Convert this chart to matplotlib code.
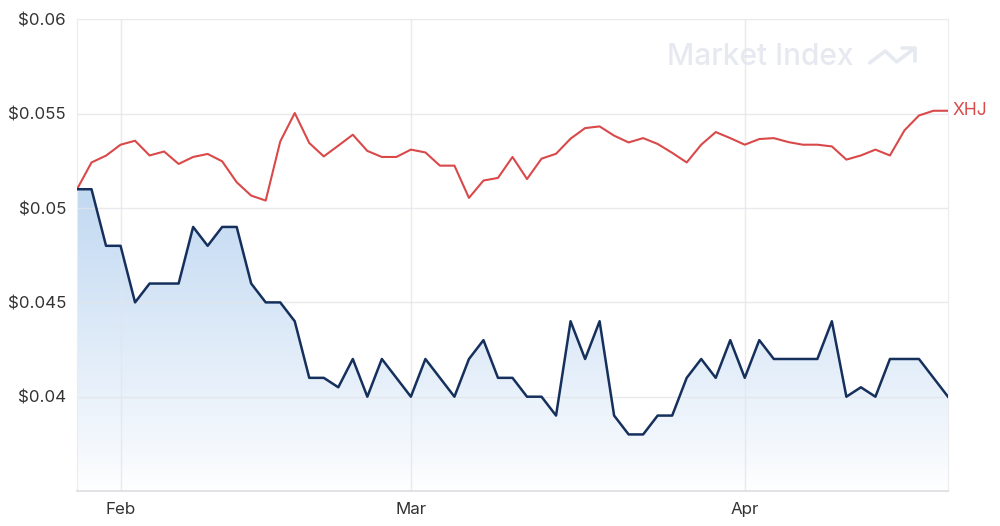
import numpy as np
import matplotlib
matplotlib.use("Agg")
import matplotlib.pyplot as plt
from matplotlib.patches import Polygon
from matplotlib.colors import LinearSegmentedColormap

plt.rcParams['font.family'] = ['Inter', 'DejaVu Sans']

# Trading-day index (27 Jan 2023 .. 26 Apr 2023)
stock = [0.051, 0.051, 0.048, 0.048, 0.045, 0.046, 0.046, 0.046, 0.049, 0.048,
         0.049, 0.049, 0.046, 0.045, 0.045, 0.044, 0.041, 0.041, 0.0405, 0.042,
         0.040, 0.042, 0.041, 0.040, 0.042, 0.041, 0.040, 0.042, 0.043, 0.041,
         0.041, 0.040, 0.040, 0.039, 0.044, 0.042, 0.044, 0.039, 0.038, 0.038,
         0.039, 0.039, 0.041, 0.042, 0.041, 0.043, 0.041, 0.043, 0.042, 0.042,
         0.042, 0.042, 0.044, 0.040, 0.0405, 0.040, 0.042, 0.042, 0.042, 0.041,
         0.040]
xhj = [0.0510, 0.05242, 0.05278, 0.05336, 0.05357, 0.05279, 0.05300, 0.05234, 0.05271, 0.05287,
       0.05248, 0.05137, 0.05066, 0.05040, 0.05353, 0.05504, 0.05345, 0.05274, 0.05331, 0.05389,
       0.05303, 0.05271, 0.05271, 0.05310, 0.05295, 0.05225, 0.05225, 0.05054, 0.05146, 0.05160,
       0.05271, 0.05154, 0.05262, 0.05288, 0.05368, 0.05424, 0.05433, 0.05384, 0.05348, 0.05371,
       0.05340, 0.05293, 0.05242, 0.05336, 0.05403, 0.05371, 0.05336, 0.05366, 0.05371, 0.05350,
       0.05336, 0.05336, 0.05327, 0.05257, 0.05279, 0.05310, 0.05279, 0.05412, 0.05491, 0.05516,
       0.05516]
month_labels = ["Feb", "Mar", "Apr"]
month_pos = [3, 23, 46]
y_ticks = [0.04, 0.045, 0.05, 0.055, 0.06]
y_labels = ["$0.04", "$0.045", "$0.05", "$0.055", "$0.06"]

x = np.arange(len(stock))

fig = plt.figure(figsize=(10, 5.26), dpi=100)
ax = fig.add_axes([0.077, 0.0665, 0.871, 0.8965])
ymin, ymax = 0.035, 0.06
ax.set_xlim(0, len(stock) - 1)
ax.set_ylim(ymin, ymax)

# gradient fill under stock line
top = max(stock)
grad = np.linspace(0, 1, 256).reshape(-1, 1) ** 0.85
cmap = LinearSegmentedColormap.from_list("g", ["#ffffff", "#e2edf9", "#c2d9f2"])
im = ax.imshow(grad, extent=[0, len(stock) - 1, ymin, top], origin="lower",
               aspect="auto", cmap=cmap, zorder=1)
verts = [(0, ymin)] + list(zip(x, stock)) + [(len(stock) - 1, ymin)]
poly = Polygon(verts, closed=True, facecolor="none", edgecolor="none")
ax.add_patch(poly)
im.set_clip_path(poly)

ax.plot(x, xhj, color="#d9494a", lw=1.5, zorder=3)
ax.plot(x, stock, color="#15305c", lw=1.8, zorder=4)

ax.text(len(stock) - 1 + 0.3, xhj[-1], "XHJ", color="#d9494a", fontsize=12.5,
        va="center", ha="left", clip_on=False)

ax.set_yticks(y_ticks)
ax.set_yticklabels(y_labels)
ax.set_xticks(month_pos)
ax.set_xticklabels(month_labels)
ax.tick_params(length=0, labelsize=12.2, colors="#333333", pad=8)
ax.tick_params(axis="x", pad=8)
ax.grid(True, color="#e3e5ea", lw=1, alpha=0.8, zorder=2)
for gl in ax.get_xgridlines() + ax.get_ygridlines():
    gl.set_zorder(2)
for s in ["top", "right", "left"]:
    ax.spines[s].set_color("#ececef")
ax.spines["bottom"].set_color("#dcdde0")
ax.spines["bottom"].set_linewidth(1.2)

# watermark
wm = "#e6e9f0"
ax.text(0.6775, 0.921, "Market Index", transform=ax.transAxes, fontsize=21.5,
        fontweight="medium", color=wm, ha="left", va="center", zorder=0.5)
ax.plot([0.910, 0.928, 0.941, 0.961], [0.908, 0.933, 0.910, 0.938],
        transform=ax.transAxes, color=wm, lw=2.6, zorder=0.5,
        solid_capstyle="round", solid_joinstyle="round")
ax.plot([0.947, 0.962, 0.962], [0.940, 0.940, 0.912],
        transform=ax.transAxes, color=wm, lw=2.6, zorder=0.5,
        solid_capstyle="round", solid_joinstyle="round")

fig.savefig("out.png", dpi=100)
